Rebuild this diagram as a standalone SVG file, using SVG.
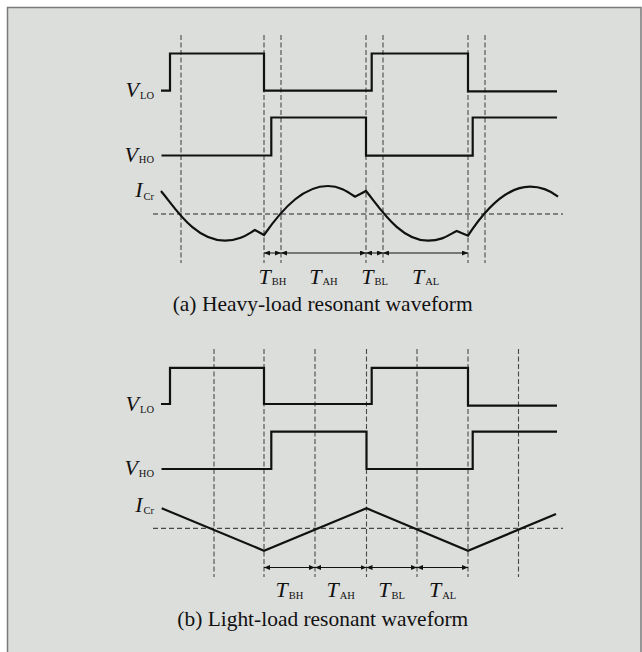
<svg xmlns="http://www.w3.org/2000/svg" width="642" height="652" viewBox="0 0 642 652">
<defs>
<style>
.bg{fill:#dcdedc;stroke:#7a7a7a;stroke-width:1.5}
.wave{fill:none;stroke:#111;stroke-width:2.2;stroke-linejoin:miter}
.vdash{stroke:#4a4a4a;stroke-width:1.1;stroke-dasharray:5 2.5;fill:none}
.hdash{stroke:#222;stroke-width:1;stroke-dasharray:5 3;fill:none}
.dim{stroke:#111;stroke-width:1;fill:none;marker-start:url(#ah);marker-end:url(#ah)}
.lbl{font-family:"Liberation Serif","Times New Roman",serif;fill:#111}
.mi{font-style:italic;font-size:22px}
.sub{font-size:10.5px}
.cap{font-family:"Liberation Serif","Times New Roman",serif;font-size:21px;fill:#111}
</style>
<marker id="ah" viewBox="0 0 6 5" markerWidth="6" markerHeight="5" refX="6" refY="2.5" orient="auto-start-reverse" markerUnits="userSpaceOnUse">
<path d="M0,0 L6,2.5 L0,5 z" fill="#111"/>
</marker>
</defs>
<rect class="bg" x="7.5" y="7.5" width="633.5" height="660"/>

<g id="panel-a">
<g id="a-grid">
<line class="vdash" x1="181" y1="35" x2="181" y2="263"/>
<line class="vdash" x1="264" y1="35" x2="264" y2="263"/>
<line class="vdash" x1="281" y1="35" x2="281" y2="263"/>
<line class="vdash" x1="366" y1="35" x2="366" y2="263"/>
<line class="vdash" x1="383" y1="35" x2="383" y2="263"/>
<line class="vdash" x1="468" y1="35" x2="468" y2="263"/>
<line class="vdash" x1="485" y1="35" x2="485" y2="263"/>
<line class="hdash" x1="153" y1="214" x2="563" y2="214"/>
</g>
<g id="a-waves">
<path class="wave" d="M161,90.7 H170 V53.5 H264 V90.7 H371.7 V53.5 H468 V91.3 H557"/>
<path class="wave" d="M161.5,155.5 H271.3 V117.5 H366 V155.7 H472.7 V117.5 H557"/>
<path class="wave" d="M161,191 C176,209 195,240.7 225,240.7 C240,240.7 248,234 255,230 L264,235 C285,205 305,186 328,186 C340,186 348,192 355,196.7 L366,191 C380,208 400,240.7 428,240.7 C443,240.7 450,234 456.7,231 L468,235.7 C488,205 508,186.7 530,186.7 C542,186.7 552,192 558,196.7"/>
</g>
<g id="a-dims">
<line class="dim" x1="264" y1="253" x2="281" y2="253"/>
<line class="dim" x1="281" y1="253" x2="366" y2="253"/>
<line class="dim" x1="366" y1="253" x2="383" y2="253"/>
<line class="dim" x1="383" y1="253" x2="468" y2="253"/>
</g>
<g id="a-labels">
<text class="lbl" x="154" y="96.7" text-anchor="end"><tspan class="mi">V</tspan><tspan class="sub" dx="1" dy="2.6">LO</tspan></text>
<text class="lbl" x="154" y="161.7" text-anchor="end"><tspan class="mi">V</tspan><tspan class="sub" dx="1" dy="1.6">HO</tspan></text>
<text class="lbl" x="154" y="197.3" text-anchor="end"><tspan class="mi">I</tspan><tspan class="sub" dx="1" dy="2.7">Cr</tspan></text>
<text class="lbl" x="272.5" y="283.5" text-anchor="middle"><tspan class="mi">T</tspan><tspan class="sub" dx="1" dy="1.2">BH</tspan></text>
<text class="lbl" x="323.5" y="283.5" text-anchor="middle"><tspan class="mi">T</tspan><tspan class="sub" dx="1" dy="1.2">AH</tspan></text>
<text class="lbl" x="374.5" y="283.5" text-anchor="middle"><tspan class="mi">T</tspan><tspan class="sub" dx="1" dy="1.2">BL</tspan></text>
<text class="lbl" x="425.5" y="283.5" text-anchor="middle"><tspan class="mi">T</tspan><tspan class="sub" dx="1" dy="1.2">AL</tspan></text>
<text class="cap" x="322.7" y="310.7" text-anchor="middle" textLength="300" lengthAdjust="spacingAndGlyphs">(a) Heavy-load resonant waveform</text>
</g>
</g>

<g id="panel-b">
<g id="b-grid">
<line class="vdash" x1="214" y1="349" x2="214" y2="577"/>
<line class="vdash" x1="264" y1="349" x2="264" y2="577"/>
<line class="vdash" x1="315" y1="349" x2="315" y2="577"/>
<line class="vdash" x1="366.5" y1="349" x2="366.5" y2="577"/>
<line class="vdash" x1="417" y1="349" x2="417" y2="577"/>
<line class="vdash" x1="468" y1="349" x2="468" y2="577"/>
<line class="vdash" x1="518.5" y1="349" x2="518.5" y2="577"/>
<line class="hdash" x1="153" y1="528.3" x2="563" y2="528.3"/>
</g>
<g id="b-waves">
<path class="wave" d="M161,404 H170 V367.8 H264 V404 H371.7 V367.8 H468 V405.7 H557"/>
<path class="wave" d="M161.5,469 H271.3 V431.7 H366.5 V469 H472.7 V431.7 H557"/>
<path class="wave" d="M161.7,508.3 L264,550.7 L366.5,508.3 L468,550.7 L556,514"/>
</g>
<g id="b-dims">
<line class="dim" x1="264" y1="567.5" x2="315" y2="567.5"/>
<line class="dim" x1="315" y1="567.5" x2="366.5" y2="567.5"/>
<line class="dim" x1="366.5" y1="567.5" x2="417" y2="567.5"/>
<line class="dim" x1="417" y1="567.5" x2="468" y2="567.5"/>
</g>
<g id="b-labels">
<text class="lbl" x="154" y="410.5" text-anchor="end"><tspan class="mi">V</tspan><tspan class="sub" dx="1" dy="2.6">LO</tspan></text>
<text class="lbl" x="154" y="475" text-anchor="end"><tspan class="mi">V</tspan><tspan class="sub" dx="1" dy="1.6">HO</tspan></text>
<text class="lbl" x="154" y="511.7" text-anchor="end"><tspan class="mi">I</tspan><tspan class="sub" dx="1" dy="2.7">Cr</tspan></text>
<text class="lbl" x="289.5" y="597.3" text-anchor="middle"><tspan class="mi">T</tspan><tspan class="sub" dx="1" dy="1.2">BH</tspan></text>
<text class="lbl" x="340.7" y="597.3" text-anchor="middle"><tspan class="mi">T</tspan><tspan class="sub" dx="1" dy="1.2">AH</tspan></text>
<text class="lbl" x="391.7" y="597.3" text-anchor="middle"><tspan class="mi">T</tspan><tspan class="sub" dx="1" dy="1.2">BL</tspan></text>
<text class="lbl" x="442.5" y="597.3" text-anchor="middle"><tspan class="mi">T</tspan><tspan class="sub" dx="1" dy="1.2">AL</tspan></text>
<text class="cap" x="322.8" y="626" text-anchor="middle" textLength="291" lengthAdjust="spacingAndGlyphs">(b) Light-load resonant waveform</text>
</g>
</g>
</svg>
